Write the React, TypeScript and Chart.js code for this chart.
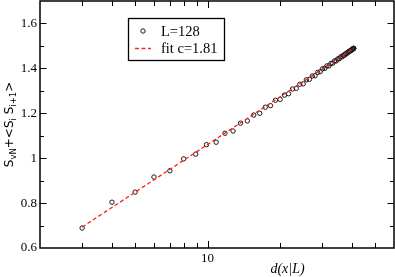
import React, { useEffect, useRef } from 'react';
import { Chart, registerables } from 'chart.js';

Chart.register(...registerables);

// chord distances d(x|L) for x = 3..64, L = 128
const distances = [
  2.997, 3.994, 4.988, 5.978, 6.966, 7.949, 8.927, 9.9, 10.867, 11.827,
  12.781, 13.726, 14.664, 15.592, 16.511, 17.42, 18.319, 19.207, 20.083, 20.947,
  21.798, 22.636, 23.461, 24.271, 25.067, 25.848, 26.613, 27.362, 28.095, 28.81,
  29.509, 30.189, 30.852, 31.496, 32.121, 32.726, 33.312, 33.877, 34.422, 34.947,
  35.451, 35.933, 36.393, 36.832, 37.249, 37.642, 38.014, 38.362, 38.688, 38.989,
  39.268, 39.523, 39.754, 39.961, 40.144, 40.303, 40.438, 40.548, 40.634, 40.695,
  40.732, 40.744,
];
const entropyValues = [
  0.689, 0.804, 0.849, 0.916, 0.944, 0.997, 1.018, 1.06, 1.071, 1.111,
  1.121, 1.156, 1.166, 1.192, 1.2, 1.227, 1.234, 1.258, 1.262, 1.281,
  1.287, 1.308, 1.311, 1.329, 1.331, 1.349, 1.351, 1.366, 1.367, 1.382,
  1.385, 1.398, 1.4, 1.411, 1.411, 1.422, 1.423, 1.433, 1.433, 1.442,
  1.443, 1.451, 1.451, 1.458, 1.458, 1.465, 1.465, 1.471, 1.471, 1.476,
  1.476, 1.48, 1.48, 1.483, 1.483, 1.486, 1.486, 1.487, 1.488, 1.489,
  1.489, 1.489,
];
const fitX = [2.997, 40.744];
const fitY = [0.693, 1.489];

const xTickValues = [2, 3, 4, 5, 6, 7, 8, 9, 10, 20, 30, 40, 50, 60];
const xLabeledTicks = [10];
const yTickValues = [0.6, 0.7, 0.8, 0.9, 1.0, 1.1, 1.2, 1.3, 1.4, 1.5, 1.6, 1.7];
const yLabeledTicks = [0.6, 0.8, 1.0, 1.2, 1.4, 1.6];
const legendLabels = ['L=128', 'fit c=1.81'];
const xTitle = 'd(x|L)';

const SERIF = '"Liberation Serif", "Times New Roman", serif';
const SANS = '"DejaVu Sans", sans-serif';

export default function App() {
  const ref = useRef<HTMLCanvasElement>(null);

  useEffect(() => {
    const canvas = ref.current;
    if (!canvas) return;

    const decorPlugin = {
      id: 'decor',
      afterDraw(chart: any) {
        const { ctx, chartArea: a, scales } = chart;
        const xs = scales.x;
        const ys = scales.y;
        ctx.save();
        // inward tick marks
        ctx.strokeStyle = '#000';
        ctx.lineWidth = 1;
        ctx.setLineDash([]);
        ctx.beginPath();
        xTickValues.forEach((v) => {
          if (v <= xs.min || v >= xs.max) return;
          const px = Math.round(xs.getPixelForValue(v)) + 0.5;
          const len = xLabeledTicks.includes(v) ? 7 : 5;
          ctx.moveTo(px, a.bottom);
          ctx.lineTo(px, a.bottom - len);
          ctx.moveTo(px, a.top);
          ctx.lineTo(px, a.top + len);
        });
        yTickValues.forEach((v) => {
          if (v <= ys.min + 1e-9 || v >= ys.max - 1e-9) return;
          const py = Math.round(ys.getPixelForValue(v)) + 0.5;
          const major = yLabeledTicks.some((t) => Math.abs(t - v) < 1e-9);
          const len = major ? 6.5 : 4;
          ctx.moveTo(a.left, py);
          ctx.lineTo(a.left + len, py);
          ctx.moveTo(a.right, py);
          ctx.lineTo(a.right - len, py);
        });
        ctx.stroke();

        // frame
        ctx.lineWidth = 1.5;
        ctx.strokeRect(a.left, a.top, a.right - a.left, a.bottom - a.top);

        // legend box
        ctx.fillStyle = '#fff';
        ctx.fillRect(128, 18, 97, 43);
        ctx.lineWidth = 1.3;
        ctx.strokeStyle = '#000';
        ctx.strokeRect(128.5, 18.5, 96, 42);
        ctx.beginPath();
        ctx.lineWidth = 1;
        ctx.strokeStyle = '#1a1a1a';
        ctx.arc(143, 31, 2.2, 0, Math.PI * 2);
        ctx.stroke();
        ctx.beginPath();
        ctx.strokeStyle = '#ff2020';
        ctx.lineWidth = 1.3;
        ctx.setLineDash([4, 2.5]);
        ctx.moveTo(135, 48.5);
        ctx.lineTo(151, 48.5);
        ctx.stroke();
        ctx.setLineDash([]);
        ctx.fillStyle = '#000';
        ctx.font = `14.5px ${SERIF}`;
        ctx.textAlign = 'left';
        ctx.textBaseline = 'alphabetic';
        ctx.fillText(legendLabels[0], 161, 36);
        ctx.fillText(legendLabels[1], 161, 53);

        // x title
        ctx.font = `italic 14px ${SERIF}`;
        ctx.textAlign = 'center';
        ctx.fillText(xTitle, 287.5, 273);

        // y title with subscripts, rotated
        const main = `12px ${SANS}`;
        const sub = `8.5px ${SANS}`;
        const parts: [string, boolean][] = [
          ['S', false], ['vN', true], ['+<', false], ['S', false], ['i', true],
          [' S', false], ['i+1', true], ['>', false],
        ];
        let total = 0;
        parts.forEach(([t, s]) => {
          ctx.font = s ? sub : main;
          total += ctx.measureText(t).width;
        });
        ctx.translate(12.5, (a.top + a.bottom) / 2);
        ctx.rotate(-Math.PI / 2);
        ctx.textAlign = 'left';
        let cx = -total / 2;
        parts.forEach(([t, s]) => {
          ctx.font = s ? sub : main;
          ctx.fillText(t, cx, s ? 3.5 : 0);
          cx += ctx.measureText(t).width;
        });
        ctx.restore();
      },
    };

    const chart = new Chart(canvas, {
      type: 'scatter',
      data: {
        datasets: [
          {
            label: legendLabels[1],
            data: fitX.map((x, i) => ({ x, y: fitY[i] })),
            showLine: true,
            borderColor: '#ff2020',
            borderWidth: 1.3,
            borderDash: [4, 2.5],
            pointRadius: 0,
            fill: false,
            order: 0,
          },
          {
            label: legendLabels[0],
            data: distances.map((x, i) => ({ x, y: entropyValues[i] })),
            showLine: false,
            pointRadius: 2.2,
            pointBorderWidth: 1,
            pointBorderColor: '#1a1a1a',
            pointBackgroundColor: 'rgba(0,0,0,0)',
            order: 1,
          },
        ],
      },
      options: {
        responsive: false,
        devicePixelRatio: 1,
        animation: false,
        layout: { autoPadding: false, padding: { top: 1, right: 1, left: 0, bottom: 0 } },
        plugins: { legend: { display: false }, tooltip: { enabled: false } },
        scales: {
          x: {
            type: 'logarithmic',
            min: 2,
            max: 60,
            position: 'bottom',
            afterBuildTicks: (s: any) => {
              s.ticks = xTickValues.map((v) => ({ value: v }));
            },
            afterFit: (s: any) => {
              s.height = 29;
              s.paddingLeft = 0;
              s.paddingRight = 0;
            },
            grid: { display: false, drawTicks: false },
            border: { display: false },
            ticks: {
              autoSkip: false,
              maxRotation: 0,
              padding: 3,
              color: '#000',
              font: { family: SERIF, size: 13 },
              callback: (v: any) => (xLabeledTicks.includes(Number(v)) ? String(v) : ''),
            },
          },
          y: {
            type: 'linear',
            min: 0.6,
            max: 1.7,
            afterBuildTicks: (s: any) => {
              s.ticks = yTickValues.map((v) => ({ value: v }));
            },
            afterFit: (s: any) => {
              s.width = 40;
              s.paddingTop = 0;
              s.paddingBottom = 0;
            },
            grid: { display: false, drawTicks: false },
            border: { display: false },
            ticks: {
              autoSkip: false,
              padding: 3,
              color: '#000',
              font: { family: SERIF, size: 13 },
              callback: (v: any) => {
                const n = Number(v);
                return yLabeledTicks.some((t) => Math.abs(t - n) < 1e-9)
                  ? String(Number(n.toFixed(1)))
                  : '';
              },
            },
          },
        },
      },
      plugins: [decorPlugin],
    } as any);

    return () => chart.destroy();
  }, []);

  return (
    <div style={{ position: 'fixed', left: 0, top: 0, width: 395, height: 277, background: '#fff' }}>
      <canvas ref={ref} width={395} height={277} style={{ display: 'block', width: 395, height: 277 }} />
    </div>
  );
}
